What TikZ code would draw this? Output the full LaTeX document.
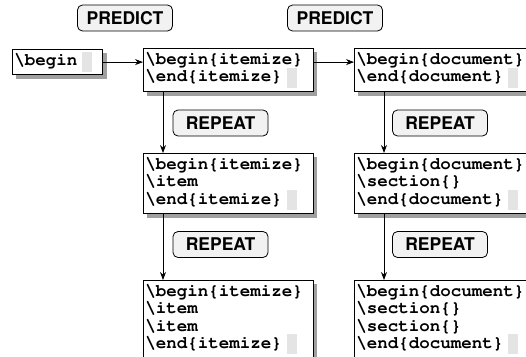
\documentclass[tikz,border=0pt]{standalone}
\usepackage[T1]{fontenc}
\usetikzlibrary{arrows.meta,backgrounds}
\definecolor{shadowgray}{HTML}{A0A0A0}
\definecolor{cursorgray}{HTML}{E4E4E4}
\definecolor{taggray}{HTML}{F2F2F2}
\newcommand{\codefont}{\fontencoding{T1}\fontfamily{pcr}\fontseries{b}\fontshape{n}\fontsize{17.5}{17.3}\selectfont}
\newcommand{\tagfont}{\fontencoding{T1}\fontfamily{phv}\fontseries{b}\fontshape{n}\fontsize{17.5}{20}\selectfont}
\newcommand{\cursorblk}{\hspace{5pt}\smash{\textcolor{cursorgray}{\rule[-6pt]{10pt}{20pt}}}}
\newcommand{\bs}{\textbackslash}
\newenvironment{codelines}{\begin{tabular}{@{}l@{\hspace{8pt}}}}{\end{tabular}}
\tikzset{
  codebox/.style={draw, line width=0.9pt, fill=white, inner xsep=2pt, inner ysep=4pt,
    anchor=north west, font=\codefont},
  boxshadow/.style={fill=shadowgray},
  tag/.style={draw, line width=0.8pt, rounded corners=5pt, fill=taggray,
    minimum width=95pt, minimum height=26pt, inner sep=0pt, font=\tagfont},
  arr/.style={-{Stealth[length=8pt,width=6pt]}, line width=0.8pt}
}
\begin{document}
\begin{tikzpicture}[x=1pt,y=-1pt]
\useasboundingbox (0,0) rectangle (526,356);
% labels
\node[tag] (p1) at (125,18) {PREDICT};
\node[tag] (p2) at (335,18) {PREDICT};
\node[tag] (r1) at (220.5,123) {REPEAT};
\node[tag] (r2) at (220.5,244.5) {REPEAT};
\node[tag] (r3) at (440,123) {REPEAT};
\node[tag] (r4) at (440,244.5) {REPEAT};
% code boxes
\node[codebox] (b0) at (12,49) {\begin{codelines}\bs begin\cursorblk\end{codelines}};
\node[codebox] (b1) at (143,48) {\begin{codelines}\bs begin\{itemize\}\\ \bs end\{itemize\}\cursorblk\end{codelines}};
\node[codebox] (b2) at (143,153) {\begin{codelines}\bs begin\{itemize\}\\ \bs item\\ \bs end\{itemize\}\cursorblk\end{codelines}};
\node[codebox] (b3) at (143,280) {\begin{codelines}\bs begin\{itemize\}\\ \bs item\\ \bs item\\ \bs end\{itemize\}\cursorblk\end{codelines}};
\node[codebox] (d1) at (354,48) {\begin{codelines}\bs begin\{document\}\\ \bs end\{document\}\cursorblk\end{codelines}};
\node[codebox] (d2) at (354,153) {\begin{codelines}\bs begin\{document\}\\ \bs section\{\}\\ \bs end\{document\}\cursorblk\end{codelines}};
\node[codebox] (d3) at (354,280) {\begin{codelines}\bs begin\{document\}\\ \bs section\{\}\\ \bs section\{\}\\ \bs end\{document\}\cursorblk\end{codelines}};
% shadows
\begin{scope}[on background layer]
\foreach \n in {b0,b1,b2,b3,d1,d2,d3}{
  \fill[boxshadow] ([shift={(4pt,-4pt)}]\n.south west) rectangle ([shift={(4pt,-4pt)}]\n.north east);
}
\end{scope}
% connectors
\draw[arr] (b0.east) -- (b0.east -| b1.west);
\draw[arr] (b1.east |- b0.east) -- (d1.west |- b0.east);
\draw[arr] ([xshift=20pt]b1.south west) -- ([xshift=20pt]b2.north west);
\draw[arr] ([xshift=20pt]b2.south west) -- ([xshift=20pt]b3.north west);
\draw[arr] ([xshift=30pt]d1.south west) -- ([xshift=30pt]d2.north west);
\draw[arr] ([xshift=30pt]d2.south west) -- ([xshift=30pt]d3.north west);
\end{tikzpicture}
\end{document}
